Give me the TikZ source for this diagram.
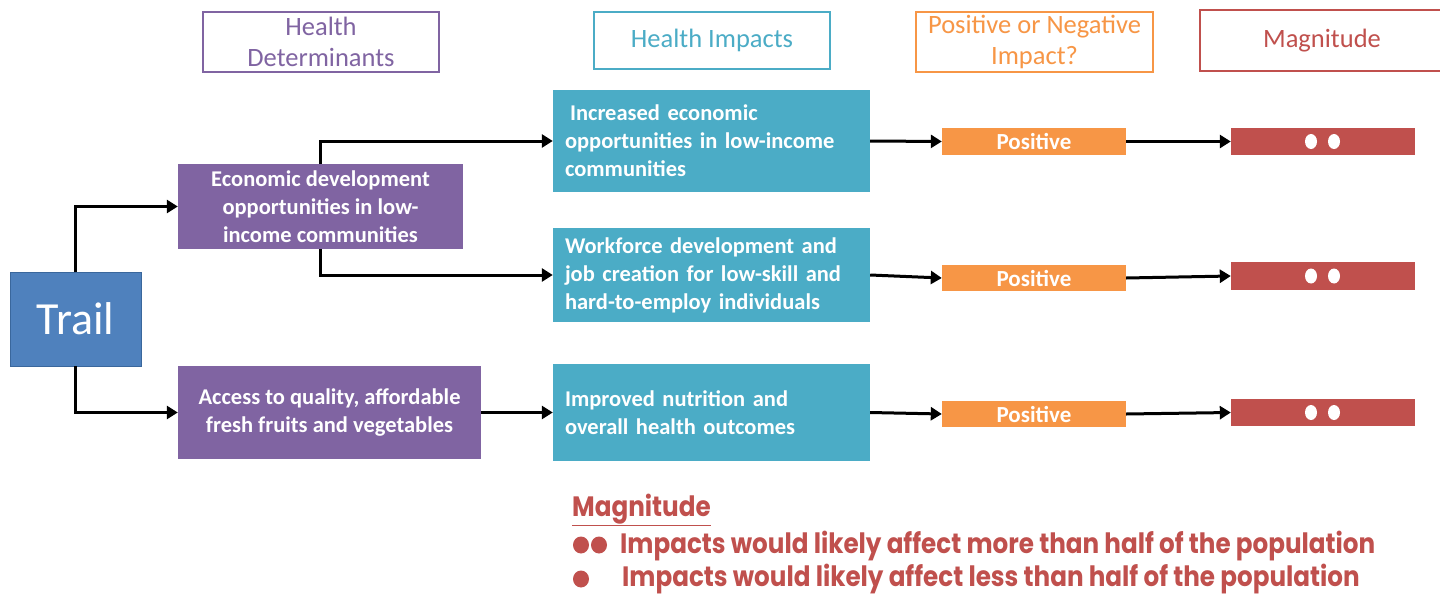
\documentclass[tikz,border=0pt]{standalone}
\usepackage{fontspec}
\setmainfont{Carlito}
\newfontfamily\legendfont{Poppins}[FakeStretch=0.88]
\usetikzlibrary{arrows.meta}
\definecolor{cpurple}{HTML}{8064A2}
\definecolor{cteal}{HTML}{4BACC6}
\definecolor{corange}{HTML}{F79646}
\definecolor{cred}{HTML}{C0504D}
\definecolor{cblue}{HTML}{4F81BD}
\definecolor{cblueborder}{HTML}{3A679C}
\begin{document}
\begin{tikzpicture}[x=1pt,y=-1pt,
  header/.style={draw, line width=2.5pt, fill=white, inner sep=0pt, align=center,
    font=\fontsize{26.5}{31}\selectfont},
  box/.style={inner sep=0pt, align=center, text=white,
    font=\bfseries\fontsize{22.5}{28}\selectfont},
  lbox/.style={box, align=left, text width=#1},
  small/.style={inner sep=0pt, text=white, minimum width=184pt,
    font=\bfseries\fontsize{23}{24}\selectfont},
  arr/.style={line width=3pt, -{Triangle[length=11pt,width=13pt]}},
  legend/.style={anchor=base west, inner sep=0pt, text=cred,
    font=\legendfont\bfseries\fontsize{28}{28}\selectfont},
  dot/.style={fill=white, draw=none},
  ldot/.style={fill=cred, draw=none}
]
\useasboundingbox (0,0) rectangle (1440,594);

% headers
\node[header, draw=cpurple, text=cpurple, minimum width=236pt, minimum height=60pt] (hd) at (321,42) {Health\\Determinants};
\node[header, draw=cteal, text=cteal, minimum width=236pt, minimum height=57pt] (hi) at (712,40.5) {Health Impacts};
\node[header, draw=corange, text=corange, minimum width=237pt, minimum height=60pt] (hp) at (1034.5,42) {Positive or Negative\\Impact?};
\node[header, draw=cred, text=cred, minimum width=244pt, minimum height=61pt] (hm) at (1322,40.5) {Magnitude};

% trail
\node[box, fill=cblue, draw=cblueborder, line width=0.8pt, minimum width=131pt, minimum height=94pt,
  font=\fontsize{46}{46}\selectfont] (trail) at (75.5,319) {Trail};

% determinants
\node[box, fill=cpurple, minimum width=285pt, minimum height=85pt] (econ) at (320.5,206.5)
  {Economic development\\opportunities in low-\\income communities};
\node[box, fill=cpurple, minimum width=303pt, minimum height=93pt] (access) at (329.5,412.5)
  {Access to quality, affordable\\fresh fruits and vegetables};

% impacts
\node[lbox=293pt, fill=cteal, minimum width=317pt, minimum height=102pt] (inc) at (711.5,141)
  {\hspace*{5pt}Increased economic\\opportunities in low-income\\communities};
\node[lbox=293pt, fill=cteal, minimum width=317pt, minimum height=94pt] (work) at (711.5,275)
  {Workforce development and\\job creation for low-skill and\\hard-to-employ individuals};
\node[lbox=293pt, fill=cteal, minimum width=317pt, minimum height=97pt] (impr) at (711.5,412.5)
  {Improved nutrition and\\overall health outcomes};

% positive
\node[small, fill=corange, minimum height=27pt] (p1) at (1034,141.5) {Positive};
\node[small, fill=corange, minimum height=26pt] (p2) at (1034,278) {Positive};
\node[small, fill=corange, minimum height=26pt] (p3) at (1034,414) {Positive};

% magnitude
\node[small, fill=cred, minimum height=27pt] (m1) at (1323,141.5) {};
\node[small, fill=cred, minimum height=28pt] (m2) at (1323,276) {};
\node[small, fill=cred, minimum height=27pt] (m3) at (1323,412.5) {};
\foreach \m in {m1,m2,m3}{
  \fill[dot] ([xshift=-12pt]\m.center) ellipse (6pt and 7.5pt);
  \fill[dot] ([xshift=11pt]\m.center) ellipse (6pt and 7.5pt);
}

% connectors
\draw[arr] (trail.north) |- (econ.west);
\draw[arr] (trail.south) |- (access.west);
\draw[arr] (econ.north) |- (inc.west);
\draw[arr] (econ.south) |- (work.west);
\draw[arr] (access.east) -- (impr.west);
\draw[arr] (inc.east) -- (p1.west);
\draw[arr] (work.east) -- (p2.west);
\draw[arr] (impr.east) -- (p3.west);
\draw[arr] (p1.east) -- (m1.west);
\draw[arr] (p2.east) -- (m2.west);
\draw[arr] (p3.east) -- (m3.west);

% legend
\node[legend] (lt) at (572,516) {\underline{Magnitude}};
\fill[ldot] (581,545) ellipse (8pt and 8.5pt);
\fill[ldot] (599,545) ellipse (8pt and 8.5pt);
\node[legend] (l1) at (620,553) {Impacts would likely affect more than half of the population};
\fill[ldot] (581,579) ellipse (8pt and 8.5pt);
\node[legend] (l2) at (622,586) {Impacts would likely affect less than half of the population};
\end{tikzpicture}
\end{document}
